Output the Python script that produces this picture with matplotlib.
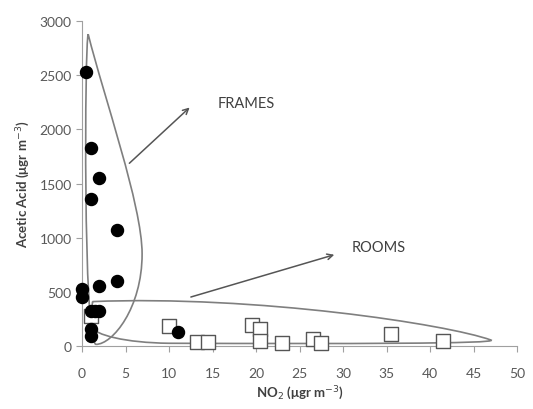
import matplotlib.pyplot as plt
from matplotlib.path import Path
from matplotlib.patches import PathPatch

# frames (filled circles)
frames_no2 = [0.5, 1, 2, 1, 4, 4, 2, 0, 0, 1, 1.5, 2, 1, 1, 11]
frames_acetic = [2530, 1830, 1550, 1360, 1075, 600, 555, 530, 455, 325, 325, 325, 160, 95, 130]

# rooms (open squares)
rooms_no2 = [1, 10, 13.2, 14.5, 19.5, 20.5, 20.5, 23, 26.5, 27.5, 35.5, 41.5]
rooms_acetic = [280, 185, 40, 40, 190, 160, 50, 30, 60, 30, 110, 45]

plt.rcParams['font.family'] = ['Lato', 'DejaVu Sans']
fig, ax = plt.subplots(figsize=(5.33, 4.10), dpi=100)
fig.subplots_adjust(left=0.154, right=0.970, bottom=0.1537, top=0.946)

grey = '#7f7f7f'

# envelopes
frames_env = Path(
    [(0.7, 2880), (2.5, 2300), (6.9, 1300), (6.9, 850),
     (6.9, 350), (3.5, 15), (1.6, 15),
     (0.1, 30), (0.3, 2800), (0.7, 2880)],
    [Path.MOVETO, Path.CURVE4, Path.CURVE4, Path.CURVE4,
     Path.CURVE4, Path.CURVE4, Path.CURVE4,
     Path.CURVE4, Path.CURVE4, Path.CURVE4])
rooms_env = Path(
    [(1.2, 410), (20, 470), (42, 200), (47, 55),
     (48, 20), (30, 20), (10, 25),
     (5, 30), (1.5, 100), (1.0, 180),
     (1.2, 410)],
    [Path.MOVETO, Path.CURVE4, Path.CURVE4, Path.CURVE4,
     Path.CURVE4, Path.CURVE4, Path.CURVE4,
     Path.CURVE4, Path.CURVE4, Path.CURVE4,
     Path.LINETO])
for p in (frames_env, rooms_env):
    ax.add_patch(PathPatch(p, facecolor='none', edgecolor=grey, lw=1.2, zorder=2))

ax.scatter(rooms_no2, rooms_acetic, marker='s', s=110, facecolor='white',
           edgecolor='#555555', linewidth=1.0, zorder=3, clip_on=False)
ax.scatter(frames_no2, frames_acetic, marker='o', s=75, color='black', zorder=4,
           clip_on=False)

ax.annotate('', xy=(12.6, 2220), xytext=(5.2, 1670),
            arrowprops=dict(arrowstyle='->', color='#555555', lw=1.1))
ax.text(15.6, 2240, 'FRAMES', fontsize=10.5, color='#404040', va='center')
ax.annotate('', xy=(29.3, 850), xytext=(12.2, 445),
            arrowprops=dict(arrowstyle='->', color='#555555', lw=1.1))
ax.text(31, 915, 'ROOMS', fontsize=10.5, color='#404040', va='center')

ax.set_xlim(0, 50)
ax.set_ylim(0, 3000)
ax.set_xticks(range(0, 51, 5))
ax.set_yticks(range(0, 3001, 500))
for s in ('top', 'right'):
    ax.spines[s].set_visible(False)
for s in ('left', 'bottom'):
    ax.spines[s].set_color('#a0a0a0')
ax.tick_params(colors='#a0a0a0', labelcolor='#595959', labelsize=10, length=4)
ax.tick_params(axis='x', pad=11)

ax.set_xlabel('NO$_2$ (μgr m$^{-3}$)', fontsize=9.5, fontweight='bold', color='#404040', labelpad=3)
ax.set_ylabel('Acetic Acid (μgr m$^{-3}$)', fontsize=9.5, fontweight='bold', color='#404040', labelpad=5)

plt.savefig('out.png')
